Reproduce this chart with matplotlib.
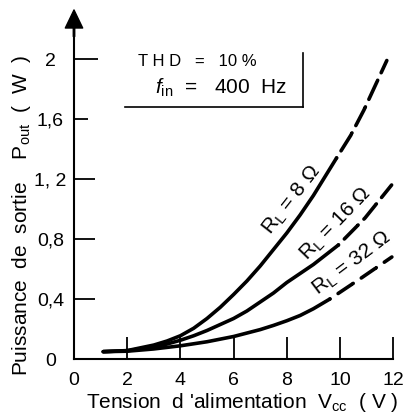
import matplotlib
matplotlib.use("Agg")
import matplotlib.pyplot as plt

plt.rcParams['font.family'] = ['Liberation Sans', 'DejaVu Sans']
plt.rcParams['lines.scale_dashes'] = False
plt.rcParams['mathtext.fontset'] = 'custom'
plt.rcParams['mathtext.rm'] = 'Liberation Sans'
plt.rcParams['mathtext.it'] = 'Liberation Sans:italic'

# Data
x_ticks = [0, 2, 4, 6, 8, 10, 12]
x_ticklabels = ["0", "2", "4", "6", "8", "10", "12"]
y_ticks = [0, 0.4, 0.8, 1.2, 1.6, 2.0]
y_ticklabels = ["0", "0,4", "0,8", "1, 2", "1,6", "2"]

v8_solid = [1.1, 2, 3, 3.5, 4, 4.5, 5, 5.5, 6, 6.5, 7, 7.5, 8, 8.5, 9, 9.87]
p8_solid = [0.049, 0.056, 0.093, 0.12, 0.155, 0.205, 0.27, 0.345, 0.43, 0.52, 0.62, 0.73, 0.84, 0.96, 1.09, 1.34]
v8_dash = [9.87, 10.4, 10.9, 11.76]
p8_dash = [1.34, 1.49, 1.66, 1.99]

v16_solid = [1.1, 2, 3, 3.5, 4, 4.5, 5, 5.5, 6, 6.5, 7, 7.5, 8, 8.5, 9, 9.94]
p16_solid = [0.049, 0.055, 0.08, 0.10, 0.125, 0.155, 0.19, 0.23, 0.27, 0.32, 0.38, 0.44, 0.51, 0.57, 0.63, 0.76]
v16_dash = [9.94, 10.94, 11.94]
p16_dash = [0.76, 0.94, 1.16]

v32_solid = [1.1, 2, 3, 4, 5, 6, 7, 7.5, 8, 8.5, 9, 9.62]
p32_solid = [0.049, 0.052, 0.067, 0.088, 0.115, 0.15, 0.196, 0.224, 0.255, 0.29, 0.335, 0.40]
v32_dash = [9.62, 10.8, 11.95]
p32_dash = [0.40, 0.54, 0.68]

W, H = 405, 419
fig = plt.figure(figsize=(W / 100, H / 100), dpi=100)
ax = fig.add_axes([74 / W, 60 / H, 12.4 * 26.6 / W, 2.34 * 150 / H])
ax.set_xlim(0, 12.4)
ax.set_ylim(0, 2.34)

for s in ['top', 'right']:
    ax.spines[s].set_visible(False)
ax.spines['left'].set_bounds(0, 2.25)
ax.spines['bottom'].set_bounds(0, 12)
for s in ['left', 'bottom']:
    ax.spines[s].set_linewidth(1.5)

ax.annotate('', xy=(0, 2.327), xytext=(0, 2.15),
            arrowprops=dict(width=1.0, headwidth=12.5, headlength=13, color='black', shrink=0),
            annotation_clip=False)

lw = 2.6
ax.plot(v8_solid, p8_solid, color='black', lw=lw, solid_capstyle='round', solid_joinstyle='round')
ax.plot(v8_dash, p8_dash, color='black', lw=lw, dashes=(0.1, 6, 14, 1), dash_capstyle='round')
ax.plot(v16_solid, p16_solid, color='black', lw=lw, solid_capstyle='round', solid_joinstyle='round')
ax.plot(v16_dash, p16_dash, color='black', lw=lw, dashes=(0.1, 6, 13, 1), dash_capstyle='round')
ax.plot(v32_solid, p32_solid, color='black', lw=lw, solid_capstyle='round', solid_joinstyle='round')
ax.plot(v32_dash, p32_dash, color='black', lw=lw, dashes=(0.1, 7, 12, 1), dash_capstyle='round')

ax.set_xticks(x_ticks)
ax.set_xticklabels(x_ticklabels, fontsize=14)
ax.set_yticks(y_ticks)
ax.set_yticklabels(y_ticklabels, fontsize=14, ha='center')
ax.tick_params(axis='x', direction='in', length=16, width=1.3, pad=9)
ax.tick_params(axis='y', direction='in', length=15, width=1.3, pad=17)
ax.xaxis.get_major_ticks()[0].tick1line.set_visible(False)
ax.yaxis.get_major_ticks()[0].tick1line.set_visible(False)
ax.yaxis.get_major_ticks()[5].tick1line.set_markersize(17)
ax.yaxis.get_major_ticks()[4].tick1line.set_markersize(10)

fig.text(242 / W, 1 - 408 / H, r"Tension  d 'alimentation  V$_{\rm cc}$  ( V )",
         ha='center', va='baseline', fontsize=15)
fig.text(22 / W, 1 - 215 / H, r"Puissance  de  sortie    P$_{\rm out}$  (  W  )",
         ha='center', va='center', rotation=90, fontsize=15)

# Conditions box
fig.text(138 / W, 1 - 62 / H, "T H D   =   10 %", ha='left', va='center', fontsize=12)
fig.text(155 / W, 1 - 88 / H, r"$f$$_{\rm in}$  =   400  Hz", ha='left', va='center', fontsize=15)
fig.add_artist(plt.Line2D([125 / W, 303 / W], [1 - 107 / H, 1 - 107 / H], color='black', lw=1.2))
fig.add_artist(plt.Line2D([303 / W, 303 / W], [1 - 53 / H, 1 - 107 / H], color='black', lw=1.2))

ax.text(8.2, 1.06, r"R$_{\rm L}$ = 8 $\Omega$", rotation=52, ha='center', va='center', fontsize=15)
ax.text(9.86, 0.9, r"R$_{\rm L}$ = 16 $\Omega$", rotation=46, ha='center', va='center', fontsize=15)
ax.text(10.45, 0.64, r"R$_{\rm L}$ = 32 $\Omega$", rotation=37, ha='center', va='center', fontsize=15)

fig.savefig("out.png", dpi=100)
